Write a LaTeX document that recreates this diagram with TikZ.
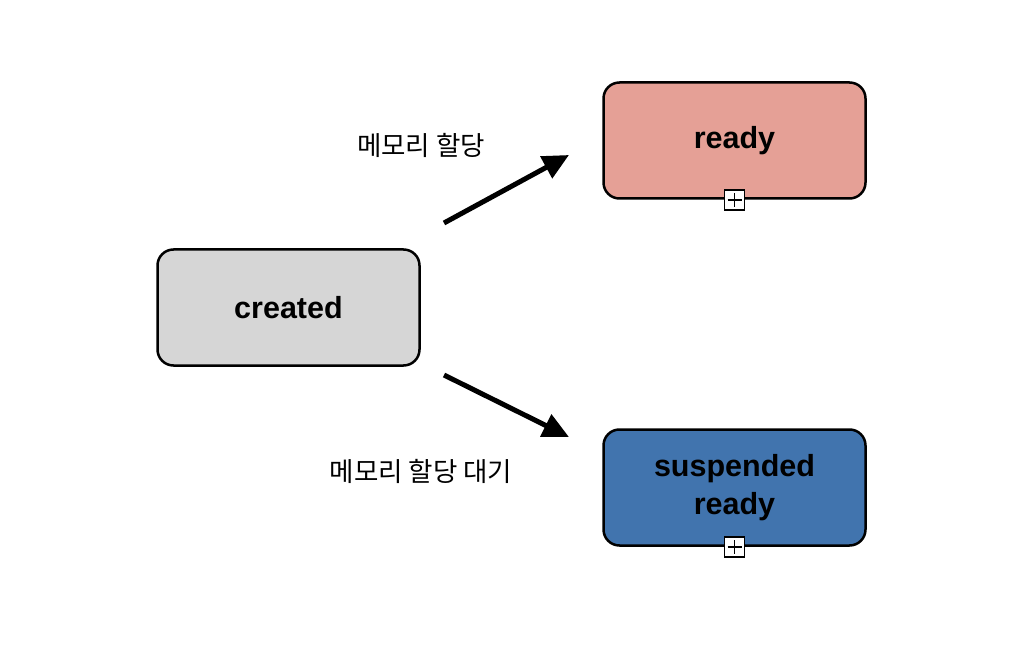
\documentclass[tikz,border=0pt]{standalone}
\usepackage{fontspec}
\setmainfont{Liberation Sans}
\newfontfamily\krfont{Noto Sans CJK KR}
\usetikzlibrary{arrows.meta}
\definecolor{grayfill}{RGB}{214,214,214}
\definecolor{pinkfill}{RGB}{229,160,150}
\definecolor{bluefill}{RGB}{65,116,174}
\tikzset{
  statebox/.style={draw=black, line width=2.5pt, rounded corners=16pt,
    minimum width=262pt, minimum height=116pt, align=center,
    font=\fontsize{30.5}{38}\selectfont\bfseries, text=black},
  plusmark/.style={draw=black, fill=white, line width=1.6pt, minimum size=20pt, inner sep=0pt,
    path picture={\draw[line width=1.8pt] ([xshift=-7pt]path picture bounding box.center) -- ([xshift=7pt]path picture bounding box.center)
      ([yshift=-7pt]path picture bounding box.center) -- ([yshift=7pt]path picture bounding box.center);}},
  flow/.style={line width=5pt, -{Triangle[length=26pt,width=24pt]}},
  krlabel/.style={font=\krfont\fontsize{26.5}{30}\selectfont, text=black}
}
\begin{document}
\begin{tikzpicture}[x=1pt,y=-1pt]
\path[use as bounding box, fill=white] (0,0) rectangle (1030,652);
\node[statebox, fill=grayfill] (created) at (288.5,307.5) {created};
\node[statebox, fill=pinkfill] (ready) at (734.5,140.5) {ready};
\node[statebox, fill=bluefill] (susp) at (734.5,487.5) {suspended\\ready};
\node[plusmark] (p1) at (ready.south) {};
\node[plusmark] (p2) at (susp.south) {};
\coordinate (a1s) at (444,223);
\coordinate (a1e) at (569,155);
\coordinate (a2s) at (444,375);
\coordinate (a2e) at (569,437);
\draw[flow] (a1s) -- (a1e);
\draw[flow] (a2s) -- (a2e);
\node[krlabel] (l1) at (421,145) {메모리 할당};
\node[krlabel] (l2) at (421,471) {메모리 할당 대기};
\end{tikzpicture}
\end{document}
